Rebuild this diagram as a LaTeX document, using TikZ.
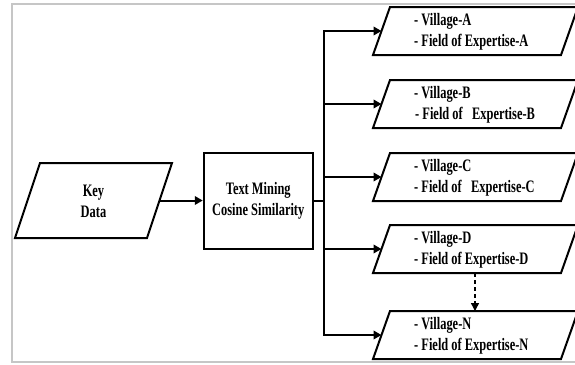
\documentclass[tikz,border=0pt]{standalone}
\usepackage{fontspec}
\newfontfamily\lblfont[FakeStretch=0.71]{Liberation Serif}
\usetikzlibrary{arrows.meta}
\newcommand{\myOutBox}[3]{%
  \draw[shp] (373,#2+24) -- (390,#2-24) -- (578,#2-24) -- (561,#2+24) -- cycle;
  \coordinate (in#1) at (381.5,#2);
  \coordinate (top#1) at (475,#2-24);
  \coordinate (bot#1) at (475,#2+24);
  \node[lbl, align=left, anchor=west] (txt#1) at (414,#2+0.5) {#3};
}
\begin{document}
\begin{tikzpicture}[x=1pt,y=-1pt,
  shp/.style={line width=2pt, line join=miter},
  lbl/.style={font=\lblfont\bfseries\fontsize{17.5}{21}\selectfont, inner sep=0pt},
  conn/.style={line width=2pt, -{Triangle[length=8pt,width=8.5pt]}},
  dconn/.style={line width=1.4pt, dash pattern=on 4pt off 3pt, -{Triangle[length=8pt,width=8pt]}},
]
\useasboundingbox (0,0) rectangle (575,364);
\begin{scope}
\clip (0,0) rectangle (575,364);
\draw[gray!45, line width=2pt] (12,4) rectangle (600,362);

% Key Data parallelogram
\draw[shp] (15,238) -- (40,163) -- (172,163) -- (147,238) -- cycle;
\coordinate (keyR) at (159.5,200.5);
\node[lbl, align=center] (key) at (93.5,201) {Key\\Data};

% Text mining box
\node[draw, line width=2pt, minimum width=109pt, minimum height=96pt, inner sep=0pt] (tm) at (258.25,200.5) {};
\node[lbl, align=center] (tmtxt) at (258.25,201) {Text Mining\\Cosine Similarity};

% Output boxes
\myOutBox{A}{31}{- Village-A\\- Field of Expertise-A}
\myOutBox{B}{104}{- Village-B\\\hspace{1pt}- Field of\ \ \ Expertise-B}
\myOutBox{C}{177}{- Village-C\\- Field of\ \ \ Expertise-C}
\myOutBox{D}{249}{- Village-D\\- Field of Expertise-D}
\myOutBox{N}{335}{- Village-N\\- Field of Expertise-N}

% connectors
\coordinate (split) at (324,200.5);
\draw[conn] (keyR) -- (tm.west);
\draw[shp] (tm.east) -- (split);
\draw[conn] (split) |- (inA);
\draw[conn] (split) |- (inB);
\draw[conn] (split) |- (inC);
\draw[conn] (split) |- (inD);
\draw[conn] (split) |- (inN);
\draw[dconn] (botD) -- (topN);
\end{scope}
\end{tikzpicture}
\end{document}
